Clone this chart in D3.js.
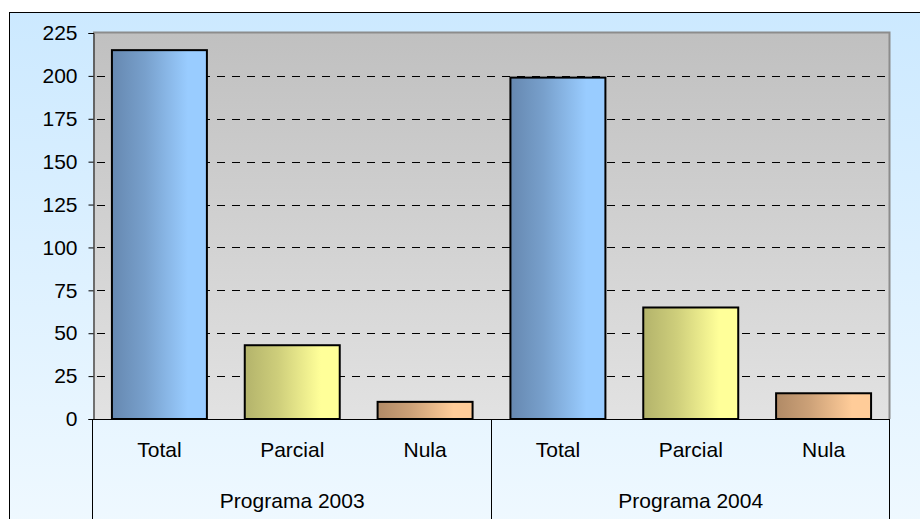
<!DOCTYPE html>
<html>
<head>
<meta charset="utf-8">
<script src="https://cdn.jsdelivr.net/npm/d3@7"></script>
<style>
  body { margin: 0; background: #fff; }
  text { font-family: "Liberation Sans", Arial, sans-serif; fill: #000; }
</style>
</head>
<body>
<svg width="920" height="519"></svg>
<script>
// Data
var groups = ["Programa 2003", "Programa 2004"];
var categories = ["Total", "Parcial", "Nula"];
var values2003 = [215, 43, 10];
var values2004 = [199, 65, 15];
var yTicks = [0, 25, 50, 75, 100, 125, 150, 175, 200, 225];

var svg = d3.select("svg"),
  width = +svg.attr("width"),
  height = +svg.attr("height");

var plot = { left: 93, right: 890, top: 33, bottom: 419 };
var fontSize = "21px";

// rows for every bar
var rows = [];
groups.forEach(function(g, gi) {
  var vals = gi === 0 ? values2003 : values2004;
  categories.forEach(function(c, ci) {
    rows.push({ group: g, cat: c, ci: ci, value: vals[ci], key: g + "|" + c });
  });
});

var x = d3.scaleBand()
  .domain(rows.map(function(d) { return d.key; }))
  .range([plot.left, plot.right])
  .paddingInner(0.285)
  .paddingOuter(0.1425);

var xGroup = d3.scaleBand()
  .domain(groups)
  .range([plot.left, plot.right]);

var y = d3.scaleLinear()
  .domain([0, 225])
  .range([plot.bottom, plot.top]);

// Gradients
var defs = svg.append("defs");
function linGrad(id, x1, y1, x2, y2, stops) {
  var g = defs.append("linearGradient").attr("id", id)
    .attr("x1", x1).attr("y1", y1).attr("x2", x2).attr("y2", y2);
  stops.forEach(function(s) {
    g.append("stop").attr("offset", s[0]).attr("stop-color", s[1]);
  });
}
linGrad("frameBg", 0, 0, 0, 1, [[0, "#cce9ff"], [1, "#f0f9ff"]]);
linGrad("plotBg", 0, 0, 0, 1, [[0, "#c0c0c0"], [1, "#e2e2e2"]]);
var barColors = [
  ["#6688b0", "#99ccff"],
  ["#b3b36b", "#ffff99"],
  ["#b08a66", "#ffcc99"]
];
barColors.forEach(function(c, i) {
  linGrad("bar" + i, 0, 0, 1, 0, [[0, c[0]], [0.35, d3.interpolateRgb(c[0], c[1])(0.35)], [0.8, c[1]], [1, c[1]]]);
});

// Outer frame
svg.append("rect")
  .attr("x", 9.5).attr("y", 12.5)
  .attr("width", width + 10).attr("height", height + 10)
  .attr("fill", "url(#frameBg)")
  .attr("stroke", "#000")
  .attr("stroke-width", 1);

// Plot area
svg.append("rect")
  .attr("x", plot.left).attr("y", plot.top)
  .attr("width", plot.right - plot.left).attr("height", plot.bottom - plot.top)
  .attr("fill", "url(#plotBg)");
svg.append("path")
  .attr("d", "M" + plot.left + "," + (plot.top - 0.5) + "H" + (plot.right - 0.5) + "V" + plot.bottom)
  .attr("fill", "none")
  .attr("stroke", "#8c8c8c")
  .attr("stroke-width", 2);

// Gridlines
svg.append("g")
  .selectAll("line")
  .data(yTicks.filter(function(t) { return t > 0 && t < 225; }))
  .enter().append("line")
    .attr("x1", plot.left + 4).attr("x2", plot.right - 1)
    .attr("y1", function(d) { return Math.round(y(d)) + 0.5; })
    .attr("y2", function(d) { return Math.round(y(d)) + 0.5; })
    .attr("stroke", "#000")
    .attr("stroke-dasharray", "8,7");

// Bars
svg.append("g")
  .selectAll("rect")
  .data(rows)
  .enter().append("rect")
    .attr("x", function(d) { return x(d.key); })
    .attr("y", function(d) { return y(d.value); })
    .attr("width", x.bandwidth())
    .attr("height", function(d) { return y(0) - y(d.value); })
    .attr("fill", function(d) { return "url(#bar" + d.ci + ")"; })
    .attr("stroke", "#000")
    .attr("stroke-width", 2);

// Y axis
var yAxis = svg.append("g")
  .attr("transform", "translate(" + (plot.left + 0.5) + ",0)")
  .call(d3.axisLeft(y).tickValues(yTicks).tickSize(5).tickPadding(11));
yAxis.select(".domain").attr("stroke", "#000");
yAxis.selectAll("line").attr("stroke", "#000");
yAxis.selectAll("text")
  .style("font-family", "'Liberation Sans', Arial, sans-serif")
  .style("font-size", fontSize)
  .attr("fill", "#000");

// Bottom axis line and group dividers
svg.append("line")
  .attr("x1", plot.left).attr("x2", plot.right)
  .attr("y1", plot.bottom + 0.5).attr("y2", plot.bottom + 0.5)
  .attr("stroke", "#000");
var dividers = [plot.left].concat(groups.map(function(g) { return xGroup(g) + xGroup.bandwidth(); }));
svg.append("g")
  .selectAll("line")
  .data(dividers)
  .enter().append("line")
    .attr("x1", function(d) { return Math.round(d) - 0.5; })
    .attr("x2", function(d) { return Math.round(d) - 0.5; })
    .attr("y1", plot.bottom)
    .attr("y2", height)
    .attr("stroke", "#000");

// Category labels
svg.append("g")
  .selectAll("text")
  .data(rows)
  .enter().append("text")
    .attr("x", function(d) { return x(d.key) + x.bandwidth() / 2; })
    .attr("y", 457)
    .attr("text-anchor", "middle")
    .style("font-size", fontSize)
    .text(function(d) { return d.cat; });

// Group labels
svg.append("g")
  .selectAll("text")
  .data(groups)
  .enter().append("text")
    .attr("x", function(d) { return xGroup(d) + xGroup.bandwidth() / 2; })
    .attr("y", 508)
    .attr("text-anchor", "middle")
    .style("font-size", fontSize)
    .text(function(d) { return d; });
</script>
</body>
</html>
